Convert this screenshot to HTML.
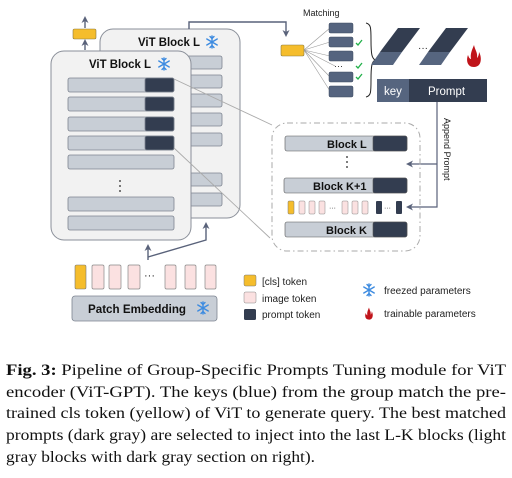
<!DOCTYPE html>
<html><head><meta charset="utf-8"><style>html,body{margin:0;padding:0;background:#fff}svg{display:block}
.s{font-family:"Liberation Sans",sans-serif}
.c{font-family:"Liberation Serif","Times New Roman",serif;font-size:16px;fill:#111}</style></head>
<body>
<svg width="512" height="478" viewBox="0 0 512 478" xmlns="http://www.w3.org/2000/svg">
<defs>
<marker id="ah" markerWidth="8" markerHeight="8" refX="4" refY="4" orient="auto" markerUnits="userSpaceOnUse"><path d="M0,0.5 L7,4 L0,7.5 L2,4 Z" fill="#59627a"/></marker>
<g id="snow" stroke="#3d8be0" stroke-width="1.4" fill="none" stroke-linecap="round">
<line x1="0" y1="-6" x2="0" y2="6"/><line x1="-5.2" y1="-3" x2="5.2" y2="3"/><line x1="-5.2" y1="3" x2="5.2" y2="-3"/>
<path d="M-2,-5.5 L0,-3.5 L2,-5.5 M-2,5.5 L0,3.5 L2,5.5"/>
</g>
<g id="flame"><path d="M0,12 C-7,12 -8,5 -6,0 C-5,3 -4,4 -3,4 C-4,-1 -2,-5 0,-10 C1,-5 4,-2 3,3 C4,2 5,0 5,-3 C8,2 8,12 0,12Z" fill="#c0141a"/></g>
</defs>

<rect x="100" y="29" width="140" height="189" rx="13" fill="#f2f2f2" stroke="#8a8f99" stroke-width="1"/>
<text x="138" y="46" class="s" font-weight="bold" font-size="12" fill="#111" textLength="62" lengthAdjust="spacingAndGlyphs">ViT Block L</text>
<use href="#snow" x="212" y="42"/>
<g fill="#c8ced6" stroke="#7d8490" stroke-width="0.8">
<rect x="170" y="56" width="52" height="13" rx="2"/><rect x="170" y="75" width="52" height="13" rx="2"/><rect x="170" y="94" width="52" height="13" rx="2"/><rect x="170" y="113" width="52" height="13" rx="2"/><rect x="170" y="133" width="52" height="13" rx="2"/><rect x="170" y="173" width="52" height="13" rx="2"/><rect x="170" y="193" width="52" height="13" rx="2"/>
</g>
<rect x="51" y="51" width="140" height="189" rx="13" fill="#f2f2f2" stroke="#8a8f99" stroke-width="1"/>
<text x="89" y="68" class="s" font-weight="bold" font-size="12" fill="#111" textLength="62" lengthAdjust="spacingAndGlyphs">ViT Block L</text>
<use href="#snow" x="164" y="64"/>
<g stroke="#7d8490" stroke-width="0.8">
<rect x="68" y="78" width="106" height="14" rx="2" fill="#c8ced6"/><rect x="145" y="78" width="29" height="14" rx="2" fill="#333d50"/>
<rect x="68" y="97" width="106" height="14" rx="2" fill="#c8ced6"/><rect x="145" y="97" width="29" height="14" rx="2" fill="#333d50"/>
<rect x="68" y="117" width="106" height="14" rx="2" fill="#c8ced6"/><rect x="145" y="117" width="29" height="14" rx="2" fill="#333d50"/>
<rect x="68" y="136" width="106" height="14" rx="2" fill="#c8ced6"/><rect x="145" y="136" width="29" height="14" rx="2" fill="#333d50"/>
<rect x="68" y="155" width="106" height="14" rx="2" fill="#c8ced6"/>
<rect x="68" y="197" width="106" height="14" rx="2" fill="#c8ced6"/>
<rect x="68" y="216" width="106" height="14" rx="2" fill="#c8ced6"/>
</g>
<g fill="#222"><circle cx="120" cy="181" r="0.9"/><circle cx="120" cy="186" r="0.9"/><circle cx="120" cy="191" r="0.9"/></g>

<line x1="85" y1="50" x2="85" y2="42" stroke="#59627a" stroke-width="1.4" marker-end="url(#ah)"/>
<rect x="73" y="29" width="23" height="10" rx="1.5" fill="#f5bd2c" stroke="#8a7a40" stroke-width="0.6"/>
<line x1="85" y1="28" x2="85" y2="19" stroke="#59627a" stroke-width="1.4" marker-end="url(#ah)"/>

<polyline points="189,29 189,22 286,22 286,34" fill="none" stroke="#59627a" stroke-width="1.4" marker-end="url(#ah)"/>

<line x1="174" y1="79" x2="272" y2="125" stroke="#aaa" stroke-width="0.9"/>
<line x1="174" y1="148" x2="270" y2="238" stroke="#aaa" stroke-width="0.9"/>

<line x1="148" y1="260" x2="148" y2="247" stroke="#59627a" stroke-width="1.4" marker-end="url(#ah)"/>
<polyline points="148,257 206,240 206,225" fill="none" stroke="#59627a" stroke-width="1.4" marker-end="url(#ah)"/>

<rect x="75" y="265" width="11" height="24" rx="1.5" fill="#f5bd2c" stroke="#777" stroke-width="0.6"/>
<g fill="#fbe1e1" stroke="#888" stroke-width="0.7">
<rect x="92" y="265" width="12" height="24" rx="1.5"/><rect x="109" y="265" width="12" height="24" rx="1.5"/><rect x="128" y="265" width="12" height="24" rx="1.5"/>
<rect x="165" y="265" width="11" height="24" rx="1.5"/><rect x="185" y="265" width="11" height="24" rx="1.5"/><rect x="205" y="265" width="11" height="24" rx="1.5"/>
</g>
<text x="144" y="279" class="s" font-size="11" fill="#222">···</text>
<rect x="72" y="296" width="145" height="25" rx="3" fill="#c8ced6" stroke="#7d8490" stroke-width="0.8"/>
<text x="88" y="313" class="s" font-weight="bold" font-size="12" fill="#111" textLength="98" lengthAdjust="spacingAndGlyphs">Patch Embedding</text>
<use href="#snow" x="203" y="308"/>

<text x="303" y="16" class="s" font-size="9" fill="#222">Matching</text>
<rect x="281" y="45" width="23" height="11" rx="1.5" fill="#f5bd2c" stroke="#8a7a40" stroke-width="0.6"/>
<g stroke="#999" stroke-width="0.6">
<line x1="304" y1="50" x2="330" y2="28"/><line x1="304" y1="50" x2="330" y2="42"/><line x1="304" y1="50" x2="330" y2="56"/><line x1="304" y1="50" x2="330" y2="77"/><line x1="304" y1="50" x2="330" y2="91"/><line x1="304" y1="50" x2="335" y2="66"/>
</g>
<g fill="#55647f" stroke="#3e4a60" stroke-width="0.5">
<rect x="329" y="23" width="24" height="10" rx="1.5"/><rect x="329" y="37" width="24" height="10" rx="1.5"/><rect x="329" y="51" width="24" height="10" rx="1.5"/><rect x="329" y="72" width="24" height="10" rx="1.5"/><rect x="329" y="86" width="24" height="11" rx="1.5"/>
</g>
<text x="334" y="69" class="s" font-size="9" fill="#222">···</text>
<g stroke="#22b04a" stroke-width="1.3" fill="none"><path d="M356,43 L358,45 L362,40"/><path d="M356,66 L358,68 L362,63"/><path d="M356,77 L358,79 L362,74"/></g>
<path d="M366,23 C371,24 371,28 371,40 C371,55 372,58 375,60 C372,62 371,65 371,80 C371,92 371,96 366,97" fill="none" stroke="#222" stroke-width="1"/>
<path d="M398,28 L420,28 L402,52 L380,52Z" fill="#333d50"/><path d="M380,52 L402,52 L393,65 L371,65Z" fill="#56657f"/>
<path d="M446,28 L468,28 L450,52 L428,52Z" fill="#333d50"/><path d="M428,52 L450,52 L441,65 L419,65Z" fill="#56657f"/>
<text x="418" y="51" class="s" font-size="10" fill="#222">···</text>
<use href="#flame" x="474" y="55"/>
<rect x="377" y="79" width="32" height="23" fill="#56657f"/><rect x="409" y="79" width="78" height="23" fill="#333d50"/>
<text x="384" y="95" class="s" font-size="11.5" fill="#fff">key</text>
<text x="428" y="95" class="s" font-size="11.5" fill="#fff">Prompt</text>

<polyline points="437,102 437,207 409,207" fill="none" stroke="#59627a" stroke-width="1.2" marker-end="url(#ah)"/>
<line x1="437" y1="164" x2="409" y2="164" stroke="#59627a" stroke-width="1.2" marker-end="url(#ah)"/>
<text transform="translate(444,118) rotate(90)" class="s" font-size="9" fill="#222">Append Prompt</text>

<rect x="272" y="123" width="148" height="128" rx="15" fill="none" stroke="#aaa" stroke-width="1" stroke-dasharray="6,3,1.5,3"/>
<g stroke="#555" stroke-width="0.6">
<rect x="285" y="136" width="122" height="15" rx="2" fill="#c8ced6"/><rect x="373" y="136" width="34" height="15" rx="2" fill="#333d50"/>
<rect x="284" y="178" width="123" height="15" rx="2" fill="#c8ced6"/><rect x="373" y="178" width="34" height="15" rx="2" fill="#333d50"/>
<rect x="285" y="222" width="122" height="15" rx="2" fill="#c8ced6"/><rect x="373" y="222" width="34" height="15" rx="2" fill="#333d50"/>
</g>
<g class="s" font-weight="bold" font-size="11" fill="#111">
<text x="327" y="148">Block L</text><text x="313" y="190">Block K+1</text><text x="326" y="234">Block K</text></g>
<g fill="#222"><circle cx="347" cy="157" r="0.9"/><circle cx="347" cy="162" r="0.9"/><circle cx="347" cy="167" r="0.9"/></g>
<rect x="288" y="201" width="6" height="13" rx="1" fill="#f5bd2c" stroke="#777" stroke-width="0.5"/>
<g fill="#fbe1e1" stroke="#888" stroke-width="0.5">
<rect x="299" y="201" width="6" height="13" rx="1"/><rect x="309" y="201" width="6" height="13" rx="1"/><rect x="319" y="201" width="6" height="13" rx="1"/>
<rect x="342" y="201" width="6" height="13" rx="1"/><rect x="352" y="201" width="6" height="13" rx="1"/><rect x="362" y="201" width="6" height="13" rx="1"/></g>
<rect x="376" y="201" width="6" height="13" rx="1" fill="#333d50"/><rect x="396" y="201" width="6" height="13" rx="1" fill="#333d50"/>
<text x="329" y="210" class="s" font-size="7" fill="#222">···</text>
<text x="384" y="210" class="s" font-size="7" fill="#222">···</text>

<rect x="244" y="275" width="12" height="11" rx="1.5" fill="#f5bd2c" stroke="#777" stroke-width="0.5"/>
<rect x="244" y="292" width="12" height="11" rx="1.5" fill="#fbe1e1" stroke="#888" stroke-width="0.5"/>
<rect x="244" y="309" width="12" height="11" rx="1.5" fill="#333d50"/>
<g class="s" font-size="10" fill="#222">
<text x="262" y="285">[cls] token</text><text x="262" y="302">image token</text><text x="262" y="318">prompt token</text>
<text x="384" y="294">freezed parameters</text><text x="384" y="317">trainable parameters</text></g>
<use href="#snow" x="369" y="290"/>
<g transform="translate(369,313) scale(0.55)"><use href="#flame"/></g>

<g class="c">
<text x="6" y="375" textLength="500" lengthAdjust="spacingAndGlyphs"><tspan font-weight="bold">Fig. 3:</tspan> Pipeline of Group-Specific Prompts Tuning module for ViT</text>
<text x="6" y="397" textLength="500" lengthAdjust="spacingAndGlyphs">encoder (ViT-GPT). The keys (blue) from the group match the pre-</text>
<text x="6" y="418" textLength="500" lengthAdjust="spacingAndGlyphs">trained cls token (yellow) of ViT to generate query. The best matched</text>
<text x="6" y="440" textLength="500" lengthAdjust="spacingAndGlyphs">prompts (dark gray) are selected to inject into the last L-K blocks (light</text>
<text x="6" y="462" textLength="309" lengthAdjust="spacingAndGlyphs">gray blocks with dark gray section on right).</text>
</g>
</svg>
</body></html>
